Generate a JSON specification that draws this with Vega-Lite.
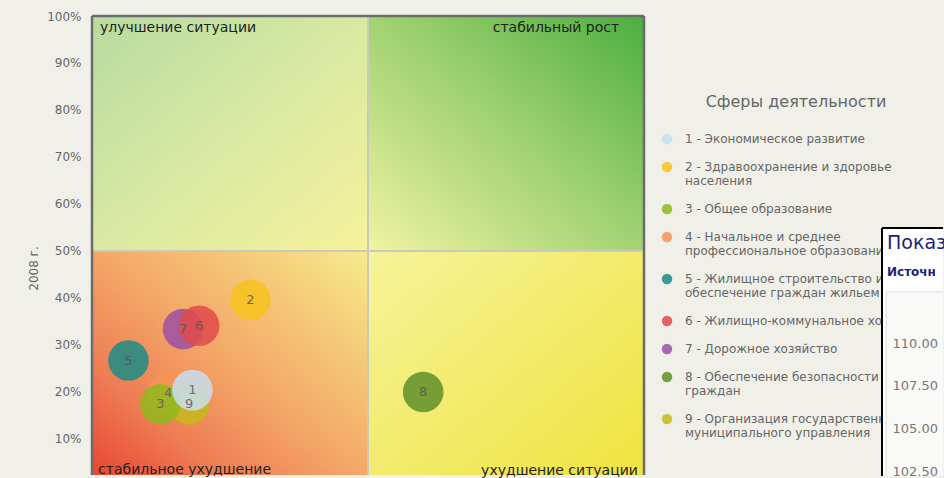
{
  "$schema": "https://vega.github.io/schema/vega-lite/v6.json",
  "background": "#f0f0e9",
  "padding": {"left": 27, "top": 10, "right": 0, "bottom": 0},
  "autosize": {"type": "pad"},
  "config": {
    "font": "DejaVu Sans",
    "axisX": {"disable": true}
  },
  "datasets": {
    "spheres": [
      {"id": "4", "name": "4 - Начальное и среднее\nпрофессиональное образование", "x": 13.8, "y": 19.8},
      {"id": "7", "name": "7 - Дорожное хозяйство", "x": 16.5, "y": 33.4},
      {"id": "9", "name": "9 - Организация государственного и\nмуниципального управления", "x": 17.6, "y": 17.4},
      {"id": "3", "name": "3 - Общее образование", "x": 12.4, "y": 17.4},
      {"id": "5", "name": "5 - Жилищное строительство и\nобеспечение граждан жильем", "x": 6.6, "y": 26.7},
      {"id": "2", "name": "2 - Здравоохранение и здоровье\nнаселения", "x": 28.7, "y": 39.6},
      {"id": "8", "name": "8 - Обеспечение безопасности\nграждан", "x": 60.0, "y": 20.0},
      {"id": "6", "name": "6 - Жилищно-коммунальное хозяйство", "x": 19.4, "y": 34.1},
      {"id": "1", "name": "1 - Экономическое развитие", "x": 18.2, "y": 20.4}
    ]
  },
  "bounds": "flush",
  "spacing": 238,
  "resolve": {"scale": {"color": "independent"}, "legend": {"color": "independent"}},
  "hconcat": [
    {
      "width": 552,
      "height": 459,
      "view": {"stroke": null},
      "layer": [
        {
          "data": {"values": [{}]},
          "mark": {"type": "rect", "clip": true, "fill": {"gradient": "linear", "x1": 0, "y1": 0, "x2": 1, "y2": 1, "stops": [{"offset": 0, "color": "#b6dba0"}, {"offset": 0.5, "color": "#d9e9a3"}, {"offset": 1, "color": "#f5f29a"}]}},
          "encoding": {
            "x": {"datum": 0, "type": "quantitative", "scale": {"domain": [0, 100], "nice": false, "zero": false}},
            "x2": {"datum": 50},
            "y": {"datum": 50, "type": "quantitative", "scale": {"domain": [2.34, 100], "nice": false, "zero": false},
              "axis": {"values": [10, 20, 30, 40, 50, 60, 70, 80, 90, 100], "labelExpr": "datum.value + '%'", "ticks": false, "tickSize": 0, "domain": false, "grid": false, "labelPadding": 11, "labelColor": "#666666", "labelFontSize": 12, "title": "2008 г.", "titleColor": "#666666", "titleFontSize": 12, "titleFontWeight": "normal", "titlePadding": 6, "titleY": 252}},
            "y2": {"datum": 100}
          }
        },
        {
          "data": {"values": [{}]},
          "mark": {"type": "rect", "clip": true, "fill": {"gradient": "linear", "x1": 1, "y1": 0, "x2": 0, "y2": 1, "stops": [{"offset": 0, "color": "#4cae3e"}, {"offset": 0.45, "color": "#9acf6e"}, {"offset": 1, "color": "#f0f3a2"}]}},
          "encoding": {
            "x": {"datum": 50, "type": "quantitative"},
            "x2": {"datum": 100},
            "y": {"datum": 50, "type": "quantitative"},
            "y2": {"datum": 100}
          }
        },
        {
          "data": {"values": [{}]},
          "mark": {"type": "rect", "clip": true, "fill": {"gradient": "linear", "x1": 0, "y1": 1, "x2": 1, "y2": 0, "stops": [{"offset": 0, "color": "#e8402f"}, {"offset": 0.25, "color": "#ee7c52"}, {"offset": 0.5, "color": "#f3a667"}, {"offset": 0.75, "color": "#f5c878"}, {"offset": 1, "color": "#f6ec8e"}]}},
          "encoding": {
            "x": {"datum": 0, "type": "quantitative"},
            "x2": {"datum": 50},
            "y": {"datum": 0, "type": "quantitative"},
            "y2": {"datum": 50}
          }
        },
        {
          "data": {"values": [{}]},
          "mark": {"type": "rect", "clip": true, "fill": {"gradient": "linear", "x1": 0, "y1": 0, "x2": 1, "y2": 1, "stops": [{"offset": 0, "color": "#f6f39a"}, {"offset": 1, "color": "#efe33c"}]}},
          "encoding": {
            "x": {"datum": 50, "type": "quantitative"},
            "x2": {"datum": 100},
            "y": {"datum": 0, "type": "quantitative"},
            "y2": {"datum": 50}
          }
        },
        {
          "data": {"values": [{}]},
          "mark": {"type": "rule", "color": "#c9c9c0", "strokeWidth": 2},
          "encoding": {"x": {"datum": 50, "type": "quantitative"}}
        },
        {
          "data": {"values": [{}]},
          "mark": {"type": "rule", "color": "#c9c9c0", "strokeWidth": 2},
          "encoding": {"y": {"datum": 50, "type": "quantitative"}}
        },
        {
          "data": {"values": [{"edge": 0}, {"edge": 100}]},
          "mark": {"type": "rule", "color": "#6b6b6b", "strokeWidth": 2.5},
          "encoding": {"x": {"field": "edge", "type": "quantitative"}}
        },
        {
          "data": {"values": [{}]},
          "mark": {"type": "rule", "color": "#6b6b6b", "strokeWidth": 2.5},
          "encoding": {"y": {"datum": 100, "type": "quantitative"}}
        },
        {
          "data": {"name": "spheres"},
          "mark": {"type": "circle", "size": 1650, "opacity": 0.85},
          "encoding": {
            "x": {"field": "x", "type": "quantitative"},
            "y": {"field": "y", "type": "quantitative"},
            "color": {
              "field": "name", "type": "nominal",
              "scale": {
                "domain": ["1 - Экономическое развитие", "2 - Здравоохранение и здоровье\nнаселения", "3 - Общее образование", "4 - Начальное и среднее\nпрофессиональное образование", "5 - Жилищное строительство и\nобеспечение граждан жильем", "6 - Жилищно-коммунальное хозяйство", "7 - Дорожное хозяйство", "8 - Обеспечение безопасности\nграждан", "9 - Организация государственного и\nмуниципального управления"],
                "range": ["#c6dff0", "#f6c21c", "#91b91c", "#f79457", "#1b8c85", "#e04a4a", "#9c4fa3", "#5f8f2c", "#c9b91b"]
              },
              "legend": {
                "orient": "none", "legendX": 569, "legendY": 78,
                "title": "Сферы деятельности", "titleFontSize": 16, "titleColor": "#666666", "titleFontWeight": "normal", "titleAnchor": "middle", "titlePadding": 23, "titleLimit": 400,
                "labelExpr": "split(datum.label, '\\n')",
                "labelFontSize": 12, "labelColor": "#666666", "labelOffset": 12, "labelLimit": 300,
                "symbolType": "circle", "symbolSize": 110, "symbolStrokeWidth": 0,
                "rowPadding": 16
              }
            }
          }
        },
        {
          "data": {"name": "spheres"},
          "mark": {"type": "text", "fontSize": 13, "color": "#555555", "opacity": 0.8},
          "encoding": {
            "x": {"field": "x", "type": "quantitative"},
            "y": {"field": "y", "type": "quantitative"},
            "text": {"field": "id"}
          }
        },
        {
          "data": {"values": [{"label": "улучшение ситуации", "x": 1.45, "y": 97.4}, {"label": "стабильное ухудшение", "x": 1.1, "y": 3.3}]},
          "mark": {"type": "text", "align": "left", "baseline": "middle", "fontSize": 14, "color": "#1e1e1e"},
          "encoding": {
            "x": {"field": "x", "type": "quantitative"},
            "y": {"field": "y", "type": "quantitative"},
            "text": {"field": "label"}
          }
        },
        {
          "data": {"values": [{"label": "стабильный рост", "x": 95.5, "y": 97.4}, {"label": "ухудшение ситуации", "x": 98.9, "y": 3.1}]},
          "mark": {"type": "text", "align": "right", "baseline": "middle", "fontSize": 14, "color": "#1e1e1e"},
          "encoding": {
            "x": {"field": "x", "type": "quantitative"},
            "y": {"field": "y", "type": "quantitative"},
            "text": {"field": "label"}
          }
        }
      ]
    },
    {
      "bounds": "flush",
      "spacing": 211,
      "vconcat": [
        {
          "width": 61,
          "height": 1,
          "view": {"stroke": null},
          "data": {"values": []},
          "mark": "point"
        },
        {
          "width": 61,
          "height": 248,
          "view": {"fill": "#ffffff", "stroke": null},
          "title": {"text": "Показ", "subtitle": "Источн", "anchor": "start", "frame": "group", "offset": -51, "dx": 5, "fontSize": 19, "fontWeight": "normal", "color": "#1a237e", "subtitleFontSize": 12, "subtitleFontWeight": "bold", "subtitleColor": "#1a237e", "subtitlePadding": 14},
          "layer": [
            {
              "data": {"values": [{}]},
              "mark": {"type": "rect", "clip": true, "fill": "#f9f9f7", "stroke": "#dcdcdc", "strokeWidth": 1},
              "encoding": {
                "x": {"datum": 0.07, "type": "quantitative", "scale": {"domain": [0, 1], "nice": false, "zero": false}},
                "x2": {"datum": 1.3},
                "y": {"datum": 113, "type": "quantitative", "scale": {"domain": [102.21, 116.74], "nice": false, "zero": false},
                  "axis": {"values": [102.5, 105, 107.5, 110], "format": ".2f", "orient": "left", "labelAlign": "left", "labelPadding": -10, "ticks": false, "tickSize": 0, "domain": false, "grid": false, "title": null, "labelColor": "#777777", "labelFontSize": 13, "zindex": 1}},
                "y2": {"datum": 100}
              }
            },
            {
              "data": {"values": [{}]},
              "mark": {"type": "rule", "color": "#000000", "strokeWidth": 2},
              "encoding": {"x": {"datum": 0, "type": "quantitative"}}
            },
            {
              "data": {"values": [{}]},
              "mark": {"type": "rule", "color": "#000000", "strokeWidth": 2},
              "encoding": {"y": {"datum": 116.74, "type": "quantitative"}}
            }
          ]
        }
      ]
    }
  ]
}
